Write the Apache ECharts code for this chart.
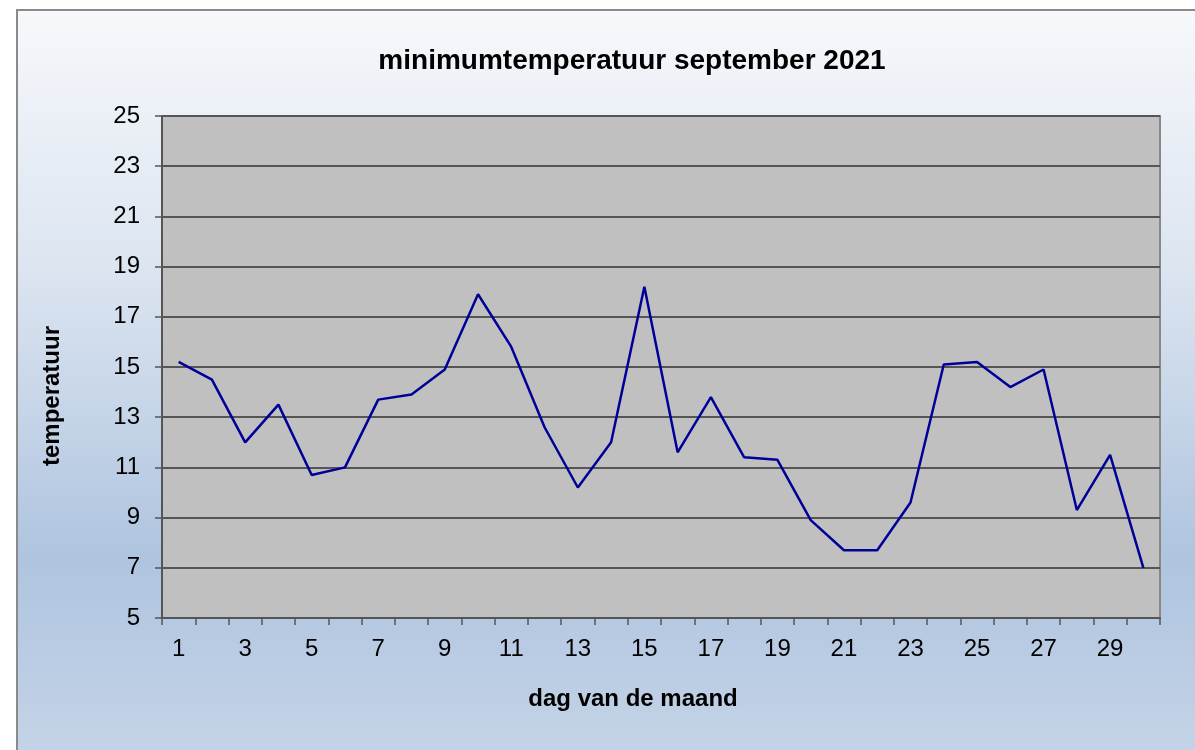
<!DOCTYPE html>
<html>
<head>
    <meta charset="utf-8">
    <title>minimumtemperatuur september 2021</title>
    <script src="https://cdn.jsdelivr.net/npm/echarts@6/dist/echarts.min.js"></script>
    <style>
        html, body { margin: 0; padding: 0; background: #fff; }
        #main { width: 1195px; height: 750px; }
    </style>
</head>
<body>
<div id="main"></div>
<script>
    var dagen = [];
    for (var d = 1; d <= 30; d++) dagen.push(String(d));

    var minTemp = [15.2, 14.5, 12.0, 13.5, 10.7, 11.0, 13.7, 13.9, 14.9, 17.9,
                   15.8, 12.6, 10.2, 12.0, 18.2, 11.6, 13.8, 11.4, 11.3, 8.9,
                   7.7, 7.7, 9.6, 15.1, 15.2, 14.2, 14.9, 9.3, 11.5, 7.0];

    var titel = 'minimumtemperatuur september 2021';
    var xNaam = 'dag van de maand';
    var yNaam = 'temperatuur';

    var lettertype = '"Liberation Sans", Arial, sans-serif';

    var chart = echarts.init(document.getElementById('main'));

    var option = {
        animation: false,
        graphic: [
            {   // achtergrond kader met verloop
                type: 'rect', z: -10, silent: true,
                shape: {x: 17, y: 10, width: 1200, height: 760},
                style: {
                    stroke: '#8a8a8a', lineWidth: 2,
                    fill: new echarts.graphic.LinearGradient(0, 0, 0, 1, [
                        {offset: 0, color: '#f6f8fb'},
                        {offset: 0.35, color: '#dbe4f0'},
                        {offset: 0.72, color: '#afc4df'},
                        {offset: 1, color: '#c6d5e8'}
                    ])
                }
            },
            {
                type: 'text',
                style: {
                    text: titel, x: 632, y: 61, textAlign: 'center', textVerticalAlign: 'middle',
                    font: 'bold 28px ' + lettertype, fill: '#000'
                }
            },
            {
                type: 'text',
                style: {
                    text: xNaam, x: 633, y: 699, textAlign: 'center', textVerticalAlign: 'middle',
                    font: 'bold 24px ' + lettertype, fill: '#000'
                }
            },
            {
                type: 'text', x: 52, y: 396, rotation: Math.PI / 2,
                style: {
                    text: yNaam, x: 0, y: 0, textAlign: 'center', textVerticalAlign: 'middle',
                    font: 'bold 24px ' + lettertype, fill: '#000'
                }
            }
        ],
        grid: {
            left: 162, top: 116, right: 35, bottom: 132,
            show: true, backgroundColor: '#c0c0c0',
            borderColor: '#888', borderWidth: 2
        },
        xAxis: {
            type: 'category',
            data: dagen,
            boundaryGap: true,
            axisLine: {lineStyle: {color: '#555', width: 2}},
            axisTick: {show: true, interval: 0, length: 7, lineStyle: {color: '#555', width: 1.5}},
            axisLabel: {
                interval: 1, margin: 19, color: '#000', fontSize: 24,
                fontFamily: lettertype
            },
            splitLine: {show: false}
        },
        yAxis: {
            type: 'value',
            min: 5, max: 25, interval: 2,
            axisLine: {show: true, lineStyle: {color: '#555', width: 2}},
            axisTick: {show: true, length: 7, lineStyle: {color: '#555', width: 1.5}},
            axisLabel: {
                margin: 22, color: '#000', fontSize: 24,
                fontFamily: lettertype
            },
            splitLine: {lineStyle: {color: '#555', width: 2}}
        },
        series: [{
            type: 'line',
            data: minTemp,
            symbol: 'none',
            lineStyle: {color: '#000099', width: 2.5}
        }]
    };

    chart.setOption(option);
</script>
</body>
</html>
